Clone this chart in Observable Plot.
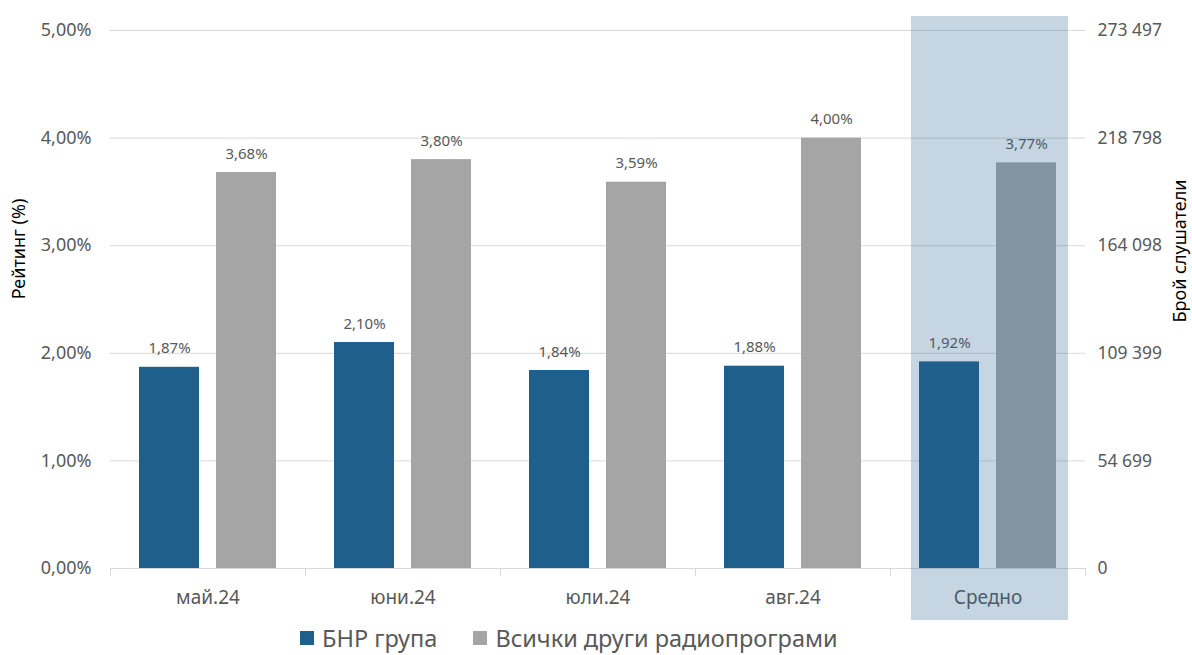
<!DOCTYPE html>
<html><head><meta charset="utf-8">
<script src="https://cdn.jsdelivr.net/npm/d3@7"></script>
<script src="https://cdn.jsdelivr.net/npm/@observablehq/plot@0.6"></script>
<style>
body{margin:0;background:#fff;font-family:"Noto Sans",sans-serif;}
#wrap{position:relative;width:1192px;height:655px;overflow:hidden;}
#legend{position:absolute;left:300px;top:623px;display:flex;align-items:center;font-size:23.5px;line-height:30px;color:#595959;white-space:nowrap;}
#legend .item{display:flex;align-items:center;margin-right:36px;}
#legend .sw{width:14px;height:14px;margin-right:8px;}
</style></head><body><div id="wrap"><div id="chart"></div><div id="legend"></div></div>
<script>
const categories = ["май.24","юни.24","юли.24","авг.24","Средно"];
const seriesNames = ["БНР група","Всички други радиопрограми"];
const bnrValues = [1.87,2.10,1.84,1.88,1.92];
const otherValues = [3.68,3.80,3.59,4.00,3.77];
const leftTicks = [0,1,2,3,4,5];
const rightTickLabels = ["0","54 699","109 399","164 098","218 798","273 497"];
const seriesColors = ["#1f5f8b","#a5a5a5"];
const highlightCategory = "Средно";
const leftTitle = "Рейтинг (%)";
const rightTitle = "Брой слушатели";

const rows = categories.flatMap((c,i)=>[
  {cat:c, series:seriesNames[0], value:bnrValues[i]},
  {cat:c, series:seriesNames[1], value:otherValues[i]}
]);
const fmt = v => v.toFixed(2).replace(".", ",") + "%";

const chart = Plot.plot({
  width:1192, height:625,
  marginLeft:110, marginRight:107, marginTop:30, marginBottom:57,
  style:{fontFamily:'"Noto Sans", sans-serif', color:"#595959", background:"#fff"},
  fx:{domain:categories, padding:0, label:null},
  x:{domain:seriesNames, paddingInner:0.22, paddingOuter:0.376, axis:null},
  y:{domain:[0,5], axis:null},
  color:{domain:seriesNames, range:seriesColors},
  marks:[
    Plot.gridY(leftTicks.slice(1), {stroke:"#d9d9d9", strokeOpacity:1}),
    Plot.ruleY([0], {stroke:"#d9d9d9"}),
    Plot.frame({anchor:"left", stroke:"#d9d9d9", insetTop:538, insetBottom:-7}),
    Plot.frame({anchor:"right", stroke:"#d9d9d9", insetTop:538, insetBottom:-7}),
    Plot.barY(rows, {fx:"cat", x:"series", y:"value", fill:"series"}),
    Plot.text(rows, {fx:"cat", x:"series", y:"value", text:d=>fmt(d.value), lineAnchor:"bottom", dy:-14, fontSize:15, fill:"#595959"}),
    Plot.axisY({anchor:"left", ticks:leftTicks, tickFormat:v=>v.toFixed(2).replace(".",",")+"%", tickSize:0, tickPadding:19, fontSize:18, label:null}),
    Plot.axisY({anchor:"right", ticks:leftTicks, tickFormat:v=>rightTickLabels[leftTicks.indexOf(v)], tickSize:0, tickPadding:12, fontSize:17.5, label:null}),
    Plot.axisFx({anchor:"bottom", tickSize:0, tickPadding:22, fontSize:19, label:null}),
    Plot.rect([{cat:highlightCategory}], {fx:"cat", fill:"rgb(41,100,148)", fillOpacity:0.27, insetLeft:21, insetRight:17, insetTop:-14, insetBottom:-52})
  ]
});
document.getElementById("chart").appendChild(chart);

const svg = d3.select(chart);
svg.append("text").text(leftTitle)
  .attr("transform","translate(25,249) rotate(-90)")
  .attr("text-anchor","middle").attr("font-size",18).attr("fill","#000");
svg.append("text").text(rightTitle)
  .attr("transform","translate(1186,251) rotate(-90)")
  .attr("text-anchor","middle").attr("font-size",18).attr("fill","#000");

const legend = d3.select("#legend");
seriesNames.forEach((s,i)=>{
  const it = legend.append("div").attr("class","item");
  it.append("div").attr("class","sw").style("background",seriesColors[i]);
  it.append("span").text(s);
});
</script></body></html>
